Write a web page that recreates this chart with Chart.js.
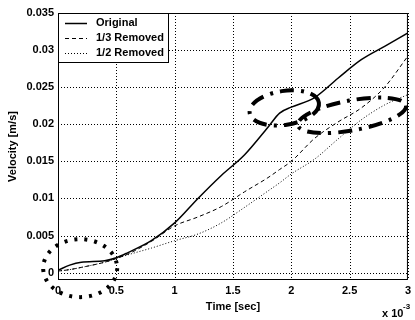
<!DOCTYPE html>
<html>
<head>
<meta charset="utf-8">
<script src="https://cdn.jsdelivr.net/npm/chart.js@4.4.0/dist/chart.umd.min.js"></script>
<style>
  body { margin: 0; background: #fff; }
  canvas { display: block; }
</style>
</head>
<body>
<canvas id="velocity" width="415" height="320"></canvas>
<script>
// time in ms (axis shows x 10^-3 sec)
const time = [0, 0.1, 0.2, 0.4, 0.5, 0.6, 0.8, 1.0, 1.2, 1.4, 1.6, 1.8, 1.9, 2.0, 2.2, 2.4, 2.6, 2.8, 3.0];
const original = [0.0003, 0.0010, 0.0014, 0.0016, 0.0020, 0.0027, 0.0043, 0.0067, 0.0100, 0.0131, 0.0159, 0.0196, 0.0215, 0.0223, 0.0236, 0.0262, 0.0287, 0.0305, 0.0323];
const removedThird = [0.0002, 0.0004, 0.0007, 0.0014, 0.0019, 0.0025, 0.0042, 0.0063, 0.0075, 0.0089, 0.0109, 0.0128, 0.0139, 0.0150, 0.0181, 0.0203, 0.0222, 0.0250, 0.0292];
const removedHalf = [0.0002, 0.0004, 0.0007, 0.0014, 0.0019, 0.0024, 0.0033, 0.0043, 0.0052, 0.0067, 0.0088, 0.0110, 0.0121, 0.0133, 0.0153, 0.0180, 0.0206, 0.0226, 0.0240];
const xTicks = [0, 0.5, 1, 1.5, 2, 2.5, 3];
const yTicks = [0, 0.005, 0.01, 0.015, 0.02, 0.025, 0.03, 0.035];

const FONT = '"Liberation Sans", Arial, sans-serif';

function points(values) {
  return values.map((v, i) => ({ x: time[i], y: v }));
}

// dotted grid, drawn by hand so the dots come out like the matlab ones
const dottedGrid = {
  id: "dottedGrid",
  beforeDatasetsDraw(chart) {
    const { ctx, chartArea: { left, top, right, bottom }, scales: { x, y } } = chart;
    ctx.save();
    ctx.strokeStyle = "#000";
    ctx.lineWidth = 1;
    ctx.setLineDash([1, 2]);
    ctx.beginPath();
    xTicks.forEach((t) => {
      const px = Math.round(x.getPixelForValue(t)) + 0.5;
      ctx.moveTo(px, top);
      ctx.lineTo(px, bottom);
    });
    yTicks.forEach((t) => {
      const py = Math.round(y.getPixelForValue(t)) + 0.5;
      ctx.moveTo(left, py);
      ctx.lineTo(right, py);
    });
    ctx.stroke();
    ctx.restore();
  },
};

// box round the plot + legend inside the top left corner
const frameAndLegend = {
  id: "frameAndLegend",
  afterDraw(chart) {
    const { ctx, chartArea: { left, top, right, bottom } } = chart;
    ctx.save();
    ctx.strokeStyle = "#000";
    ctx.lineWidth = 1;
    ctx.setLineDash([]);
    ctx.strokeRect(left + 0.5, top + 0.5, right - left - 1, bottom - top - 1);

    const w = 110, h = 49;
    ctx.fillStyle = "#fff";
    ctx.fillRect(left, top, w, h);
    ctx.strokeRect(left + 0.5, top + 0.5, w, h);

    ctx.font = "bold 11px " + FONT;
    ctx.textBaseline = "middle";
    chart.data.datasets.forEach((ds, i) => {
      const y = top + 10 + i * 15;
      ctx.beginPath();
      ctx.setLineDash(ds.borderDash || []);
      ctx.lineWidth = ds.borderWidth;
      ctx.moveTo(left + 7, y + 0.5);
      ctx.lineTo(left + 29, y + 0.5);
      ctx.stroke();
      ctx.fillStyle = "#000";
      ctx.fillText(ds.label, left + 38, y);
    });

    // x 10^-3 multiplier
    ctx.font = "bold 11px " + FONT;
    ctx.textBaseline = "alphabetic";
    ctx.fillText("x 10", 382, 317);
    ctx.font = "bold 8px " + FONT;
    ctx.fillText("-3", 403, 309);
    ctx.restore();
  },
};

// hand drawn rings on the scan
const rings = {
  id: "rings",
  afterDraw(chart) {
    const { ctx, scales: { x, y } } = chart;
    ctx.save();
    ctx.strokeStyle = "#000";
    ctx.lineWidth = 4;
    ctx.setLineDash([3, 7]);
    ctx.beginPath();
    ctx.ellipse(x.getPixelForValue(0.19), y.getPixelForValue(0.0006), 37, 29, 0, 0, 2 * Math.PI);
    ctx.stroke();

    ctx.setLineDash([14, 7, 3, 7]);
    ctx.beginPath();
    ctx.ellipse(x.getPixelForValue(1.94), y.getPixelForValue(0.0222), 35, 17, -0.15, 0, 2 * Math.PI);
    ctx.stroke();
    ctx.beginPath();
    ctx.ellipse(x.getPixelForValue(2.52), y.getPixelForValue(0.0212), 55, 15, -0.18, 0, 2 * Math.PI);
    ctx.stroke();
    ctx.restore();
  },
};

const noGrid = { display: false, drawTicks: false };

new Chart(document.getElementById("velocity"), {
  type: "line",
  data: {
    datasets: [
      { label: "Original", data: points(original), borderColor: "#000", borderWidth: 1.5, borderDash: [] },
      { label: "1/3 Removed", data: points(removedThird), borderColor: "#000", borderWidth: 1, borderDash: [4, 3] },
      { label: "1/2 Removed", data: points(removedHalf), borderColor: "#000", borderWidth: 1, borderDash: [1, 2] },
    ],
  },
  options: {
    responsive: false,
    animation: false,
    layout: { padding: { top: 13, right: 2, left: 0, bottom: 0 } },
    elements: { point: { radius: 0 }, line: { cubicInterpolationMode: "monotone", fill: false } },
    plugins: { legend: { display: false }, tooltip: { enabled: false } },
    scales: {
      x: {
        type: "linear",
        min: 0,
        max: 3,
        afterBuildTicks: (s) => { s.ticks = xTicks.map((v) => ({ value: v })); },
        afterFit: (s) => { s.height = 40; },
        ticks: { color: "#000", font: { family: FONT, size: 11, weight: "bold" }, padding: 4, maxRotation: 0, autoSkip: false, callback: (v) => String(v) },
        grid: noGrid,
        border: { display: false },
        title: { display: true, text: "Time [sec]", color: "#000", font: { family: FONT, size: 11, weight: "bold" }, padding: { top: 2, bottom: 6 } },
      },
      y: {
        min: -0.001,
        max: 0.035,
        afterBuildTicks: (s) => { s.ticks = yTicks.map((v) => ({ value: v })); },
        afterFit: (s) => { s.width = 58; },
        ticks: { color: "#000", font: { family: FONT, size: 11, weight: "bold" }, padding: 4, autoSkip: false, callback: (v) => String(v) },
        grid: noGrid,
        border: { display: false },
        title: { display: true, text: "Velocity [m/s]", color: "#000", font: { family: FONT, size: 11, weight: "bold" }, padding: { top: 6, bottom: 2 } },
      },
    },
  },
  plugins: [dottedGrid, frameAndLegend, rings],
});
</script>
</body>
</html>
